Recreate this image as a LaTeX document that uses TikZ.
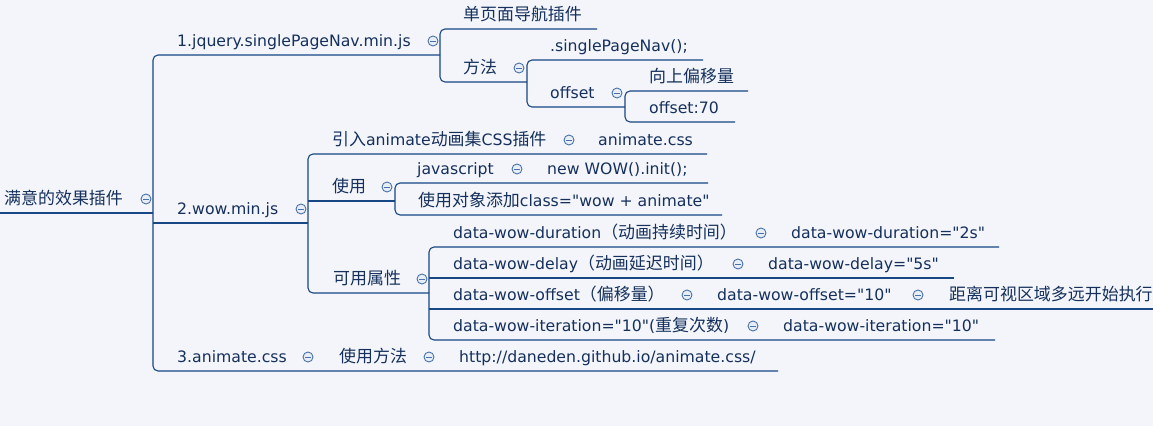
\documentclass[tikz,border=0pt]{standalone}
\usepackage{fontspec}
\setmainfont[Ligatures=TeXOff]{DejaVu Sans}
\newfontfamily\cjk[Scale=1.08]{Noto Sans CJK SC}
\newcommand\zh[1]{{\cjk #1}}
\definecolor{bg}{HTML}{F3F5FA}
\definecolor{ln}{HTML}{174785}
\definecolor{txt}{HTML}{15305C}
\definecolor{cfill}{HTML}{E8EEF7}
\definecolor{cline}{HTML}{4A72AA}
\begin{document}
\begin{tikzpicture}[x=1pt,y=-1pt,
  lbl/.style={anchor=base west, inner sep=0pt, text=txt, font=\fontsize{15.7}{18}\selectfont},
  conn/.style={draw=ln, line width=1.1pt, rounded corners=5pt},
  fold/.style={circle, draw=cline, fill=cfill, line width=0.9pt, minimum size=10pt, inner sep=0pt,
    path picture={\draw[cline, line width=0.9pt] ([xshift=-2.8pt]path picture bounding box.center) -- ([xshift=2.8pt]path picture bounding box.center);}}]
\fill[bg] (0,0) rectangle (1153,426);
\useasboundingbox (0,0) rectangle (1153,426);

% ---- connectors ----
\draw[conn] (0,213) -- (153,213);
\draw[conn] (440,55) -- (153,55) -- (153,371) -- (778,371);
\draw[conn] (153,223) -- (308,223);
% branch 1
\draw[conn] (597,29) -- (440,29) -- (440,82) -- (527,82);
\draw[conn] (703,60) -- (527,60) -- (527,107) -- (625,107);
\draw[conn] (748,91) -- (625,91) -- (625,122) -- (735,122);
% branch 2
\draw[conn] (707,154) -- (308,154) -- (308,293) -- (429,293);
\draw[conn] (308,201) -- (395,201);
\draw[conn] (708,183) -- (395,183) -- (395,215) -- (722,215);
\draw[conn] (999,247) -- (429,247) -- (429,340) -- (995,340);
\draw[conn] (429,278) -- (954,278);
\draw[conn] (429,309) -- (1153,309);

% ---- fold markers ----
\node[fold] (f0) at (146,199) {};
\node[fold] (f1) at (433,41) {};
\node[fold] (f2) at (301,209) {};
\node[fold] (f3) at (308,357) {};
\node[fold] (f3a) at (429,357) {};
\node[fold] (f1b) at (519,68) {};
\node[fold] (f1b2) at (617,93) {};
\node[fold] (f2a) at (569,140) {};
\node[fold] (f2b) at (387,187) {};
\node[fold] (f2b1) at (517,169) {};
\node[fold] (f2c) at (422,279) {};
\node[fold] (fd1) at (761,233) {};
\node[fold] (fd2) at (738,264) {};
\node[fold] (fd3) at (687,295) {};
\node[fold] (fd3v) at (918,295) {};
\node[fold] (fd4) at (753,326) {};

% ---- texts ----
\node[lbl] (root) at (4,204) {\zh{满意的效果插件}};
\node[lbl] (t1) at (177,46) {1.jquery.singlePageNav.min.js};
\node[lbl] (t2) at (177,214) {2.wow.min.js};
\node[lbl] (t3) at (177,362) {3.animate.css};
\node[lbl] (t3a) at (339,362) {\zh{使用方法}};
\node[lbl] (t3b) at (459,362) {http://daneden.github.io/animate.css/};
\node[lbl] (t1a) at (463,20) {\zh{单页面导航插件}};
\node[lbl] (t1b) at (463,73) {\zh{方法}};
\node[lbl] (t1b1) at (550,51) {.singlePageNav();};
\node[lbl] (t1b2) at (550,98) {offset};
\node[lbl] (t1b2a) at (649,82) {\zh{向上偏移量}};
\node[lbl] (t1b2b) at (649,113) {offset:70};
\node[lbl] (t2a) at (332,145) {\zh{引入}animate\zh{动画集}CSS\zh{插件}};
\node[lbl] (t2a1) at (598,145) {animate.css};
\node[lbl] (t2b) at (332,192) {\zh{使用}};
\node[lbl] (t2b1) at (417,174) {javascript};
\node[lbl] (t2b1a) at (547,174) {new WOW().init();};
\node[lbl] (t2b2) at (418,206) {\zh{使用对象添加}class="wow + animate"};
\node[lbl] (t2c) at (333,284) {\zh{可用属性}};
\node[lbl] (d1) at (453,238) {data-wow-duration\zh{（动画持续时间）}};
\node[lbl] (d1v) at (791,238) {data-wow-duration="2s"};
\node[lbl] (d2) at (453,269) {data-wow-delay\zh{（动画延迟时间）}};
\node[lbl] (d2v) at (768,269) {data-wow-delay="5s"};
\node[lbl] (d3) at (453,300) {data-wow-offset\zh{（偏移量）}};
\node[lbl] (d3v) at (717,300) {data-wow-offset="10"};
\node[lbl] (d3w) at (949,300) {\zh{距离可视区域多远开始执行}};
\node[lbl] (d4) at (453,331) {data-wow-iteration="10"(\zh{重复次数})};
\node[lbl] (d4v) at (783,331) {data-wow-iteration="10"};
\end{tikzpicture}
\end{document}
